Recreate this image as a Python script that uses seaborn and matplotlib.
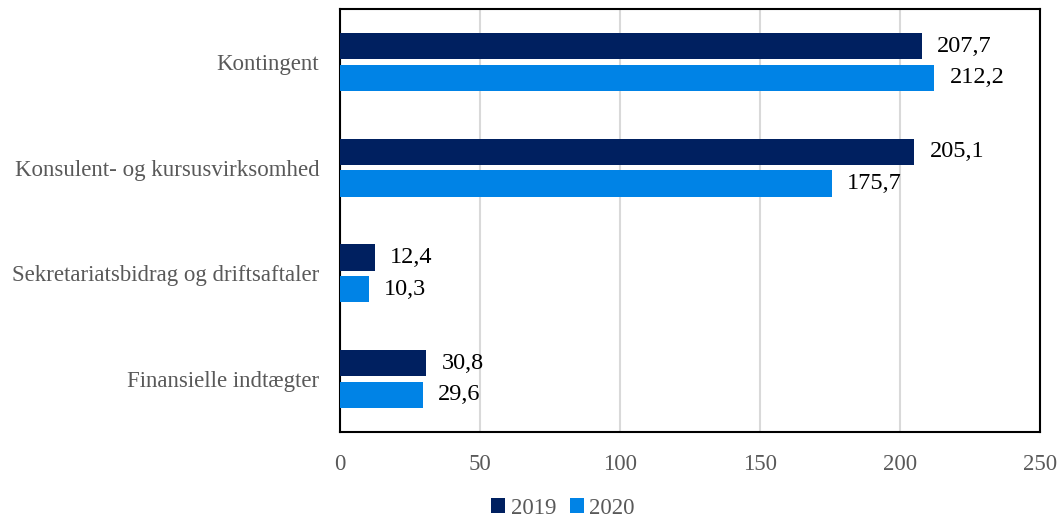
import matplotlib
matplotlib.use("Agg")
import matplotlib.pyplot as plt
import seaborn as sns
import pandas as pd

categories = ["Kontingent", "Konsulent- og kursusvirksomhed",
              "Sekretariatsbidrag og driftsaftaler", "Finansielle indtægter"]
years = ["2019", "2020"]
values_2019 = [207.7, 205.1, 12.4, 30.8]
values_2020 = [212.2, 175.7, 10.3, 29.6]
x_ticks = [0, 50, 100, 150, 200, 250]

df = pd.DataFrame({
    "kategori": categories * 2,
    "år": [years[0]] * len(categories) + [years[1]] * len(categories),
    "værdi": values_2019 + values_2020,
})

sns.set_theme(style="white")
plt.rcParams["font.family"] = ["Liberation Serif", "DejaVu Serif"]

fig = plt.figure(figsize=(10.58, 5.19), dpi=100)
ax = fig.add_axes([340 / 1058, 1 - 432 / 519, 700 / 1058, 423 / 519])

palette = {"2019": "#002060", "2020": "#0083E6"}
sns.barplot(data=df, y="kategori", x="værdi", hue="år", orient="h",
            palette=palette, width=0.6, gap=0.17, saturation=1,
            order=categories, hue_order=years, ax=ax, zorder=3,
            linewidth=0)

ax.set_xlim(0, 250)
ax.set_ylim(3.5, -0.5)
ax.set_xticks(x_ticks)
ax.set_xticklabels([str(t) for t in x_ticks])
ax.xaxis.grid(True, color="#D9D9D9", linewidth=1.5, zorder=0)
ax.yaxis.grid(False)
ax.set_xlabel("")
ax.set_ylabel("")
ax.tick_params(axis="x", length=0, pad=16, labelsize=16.5, labelcolor="#595959")
ax.tick_params(axis="y", length=0, pad=15, labelsize=16.5, labelcolor="#595959")
for s in ax.spines.values():
    s.set_visible(True)
    s.set_color("black")
    s.set_linewidth(1.5)

for cont in ax.containers:
    labels = [f"{v:.1f}".replace(".", ",") for v in cont.datavalues]
    ax.bar_label(cont, labels=labels, padding=11, fontsize=17.5, color="black")

handles, lbls = ax.get_legend_handles_labels()
ax.legend_.remove()
fig.legend(handles, lbls, loc="center", bbox_to_anchor=(563 / 1058, 1 - 508 / 519),
           ncol=2, frameon=False, fontsize=16.5, handlelength=0.6, handleheight=0.6,
           handletextpad=0.25, columnspacing=0.6, labelcolor="#595959",
           borderpad=0, borderaxespad=0)

fig.savefig("out.png", dpi=100)
